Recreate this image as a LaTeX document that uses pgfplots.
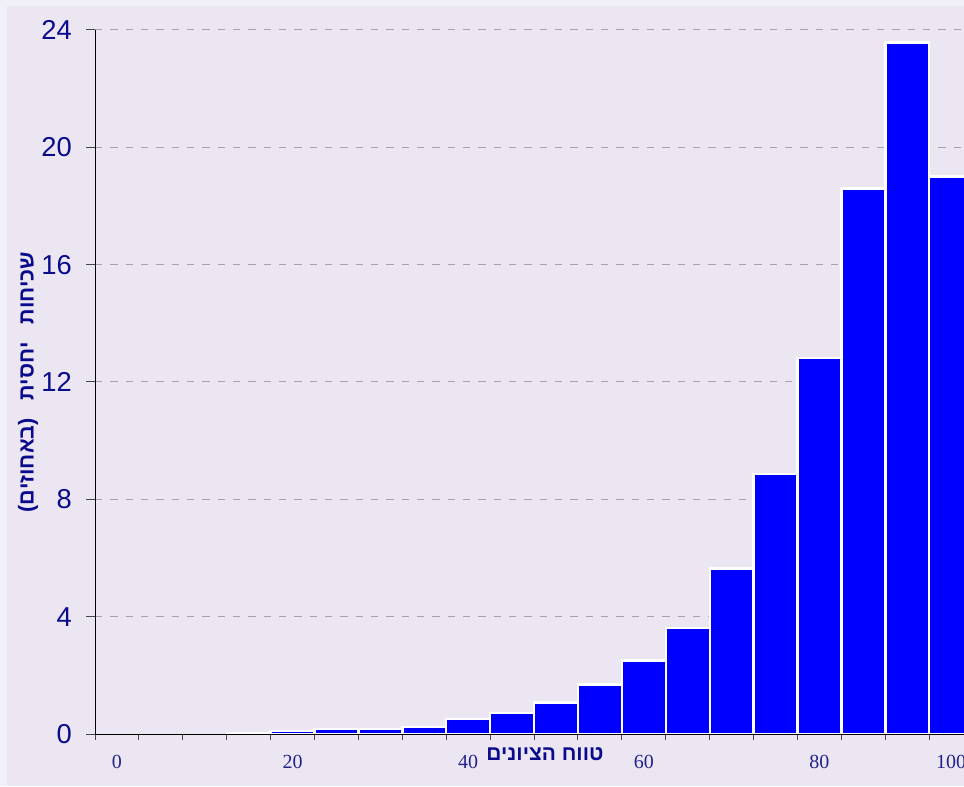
\documentclass[border=0pt]{standalone}
\usepackage{fontspec}
\setmainfont{Liberation Sans}
\newfontfamily\heb[Script=Hebrew]{Liberation Sans}
\newfontfamily\serifnum{Liberation Serif}
\usepackage{pgfplots}
\pgfplotsset{compat=1.18}
\TeXXeTstate=1
\definecolor{outerbg}{RGB}{241,239,247}
\definecolor{innerbg}{RGB}{235,230,242}
\definecolor{navyt}{RGB}{10,10,140}
\definecolor{navyx}{RGB}{35,35,140}
\definecolor{gridgray}{RGB}{165,162,170}
\definecolor{tickgray}{RGB}{70,70,70}
\definecolor{barblue}{RGB}{0,0,255}
\begin{document}
\begin{tikzpicture}
\useasboundingbox (0pt,0pt) rectangle (723pt,589.5pt);
\clip (0pt,0pt) rectangle (723pt,589.5pt);
\fill[outerbg] (0pt,0pt) rectangle (723pt,589.5pt);
\fill[innerbg] (5.25pt,0pt) rectangle (723pt,585pt);
\begin{axis}[
  scale only axis, width=658.6pt, height=528pt,
  at={(71.25pt,39pt)}, anchor=south west,
  xmin=0, xmax=20, ymin=0, ymax=24,
  enlargelimits=false,
  axis x line*=bottom, axis y line*=left,
  axis line style={black, line width=0.75pt},
  tick align=outside,
  major tick length=6.75pt,
  tick style={color=tickgray, line width=0.75pt},
  xtick={0,...,20}, xticklabels={},
  xtick style={/pgfplots/major tick length=4.5pt},
  extra x ticks={0.5,4.5,8.5,12.5,16.5,19.5},
  extra x tick labels={0,20,40,60,80,100},
  extra x tick style={tick style={draw=none}},
  xticklabel style={font=\serifnum\fontsize{15}{18}\selectfont, text=navyx, anchor=center, yshift=-14.5pt},
  ytick={0,4,...,24},
  /pgf/number format/assume math mode=true,
  yticklabel style={font=\fontsize{20.5}{24}\selectfont, text=navyt, inner sep=0pt, xshift=-10.5pt},
  ymajorgrids,
  grid style={dash pattern=on 5.5pt off 6pt, color=gridgray, line width=0.75pt},
  xlabel={\heb\bfseries\beginR טווח הציונים\endR},
  ylabel={\heb\bfseries\beginR שכיחות\ \ \ יחסית\ \ \ (באחוזים)\endR},
  xlabel style={at={(axis description cs:0.5124,-0.0291)}, anchor=center, font=\fontsize{15.7}{18}\selectfont, text=navyt},
  ylabel style={at={(axis description cs:-0.0763,0.5)}, anchor=center, font=\fontsize{16.2}{19}\selectfont, text=navyt},
  clip=true,
]
\addplot[ybar, bar width=1, bar shift=0pt, fill=barblue, draw=white, line width=1.8pt]
coordinates {
(3.5,0.03) (4.5,0.10) (5.5,0.17) (6.5,0.17) (7.5,0.24) (8.5,0.52) (9.5,0.71)
(10.5,1.07) (11.5,1.69) (12.5,2.51) (13.5,3.62) (14.5,5.64) (15.5,8.87)
(16.5,12.82) (17.5,18.60) (18.5,23.58) (19.5,19.00)
};
\draw[black, line width=0.75pt] (axis cs:0,0) -- (axis cs:20,0);
\end{axis}
\end{tikzpicture}
\end{document}
